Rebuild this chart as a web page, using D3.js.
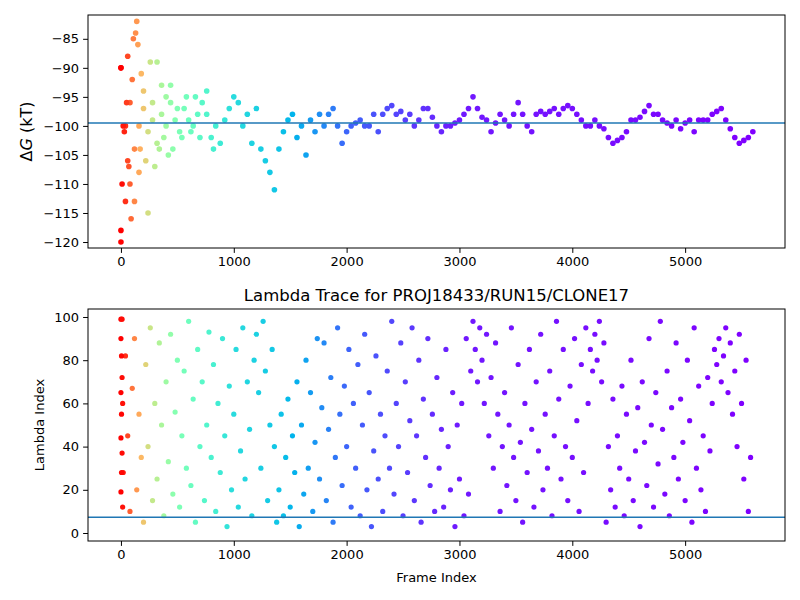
<!DOCTYPE html>
<html>
<head>
<meta charset="utf-8">
<script src="https://cdn.jsdelivr.net/npm/d3@7"></script>
<style>
  body { margin: 0; background: #fff; }
  text { font-family: "DejaVu Sans", sans-serif; }
</style>
</head>
<body>
<div id="chart"></div>
<script>
// ---- data ----
const dgStep = 40; // main trace sampled every 40 frames
const dgTrace = [
  -90, -100, -96, -104, -100, -97, -101, -99, -103, -98,
  -100, -96, -99, -101, -97, -99, -100, -98, -96, -98,
  -102, -100, -103, -99, -97, -95, -96, -100, -98, -103,
  -97, -104, -106, -108, -111, -104, -101, -99, -98, -102,
  -100, -105, -99, -101, -98, -100, -98, -97, -100, -103,
  -101, -100, -99.5, -99, -100, -100, -98, -101, -98, -97,
  -96.5, -98, -97.5, -99, -98, -100, -99, -97, -97, -98.5,
  -100, -101, -100, -100, -99.5, -99, -98, -97, -95, -97,
  -98.5, -99, -101, -99.5, -98, -99, -100, -98, -96, -98,
  -100, -101, -98, -97.5, -98, -97.5, -97, -98, -97, -96.5,
  -97, -98, -99, -100, -100, -99, -100, -100.5, -102, -103,
  -102.5, -102, -101, -99, -99, -98.5, -97.5, -96.5, -98, -98,
  -99, -99.5, -100, -99, -100.5, -99.5, -99, -101, -99, -99,
  -99, -98, -97.5, -97, -99, -100.5, -102, -103, -102.5, -102,
  -101
];
const dgEarlyFrames = [0, 0, 0, 10, 20, 30, 40, 50, 60, 60, 70, 80, 90, 100, 110, 120, 130, 140, 150, 160,
  170, 180, 200, 220, 240, 260, 280, 300, 320, 340, 360, 380, 400, 420, 440, 460, 500, 540, 580, 620, 660, 700, 760, 820];
const dgEarlyValues = [-90, -120, -118, -110, -100, -101, -113, -96, -88, -106, -107, -110, -116, -92, -85, -113, -84, -82, -86, -108,
  -104, -91, -94, -106, -115, -89, -96, -107, -89, -104, -93, -102, -95, -105, -93, -104, -97, -102, -95, -101, -95, -102, -94, -104];
const dgMean = -99.5;

const lamStep = 20;
const lamTrace = [
  99, 28, 82, 45, 10, 67, 90, 20, 55, 35,
  5, 78, 40, 95, 15, 60, 25, 88, 50, 8,
  70, 33, 92, 18, 56, 80, 12, 45, 75, 30,
  98, 22, 62, 5, 85, 40, 70, 15, 50, 93,
  35, 78, 10, 60, 28, 90, 45, 3, 68, 20,
  55, 85, 12, 38, 95, 25, 70, 48, 8, 80,
  92, 65, 30, 98, 75, 15, 50, 85, 40, 5,
  20, 55, 8, 35, 62, 12, 45, 28, 70, 3,
  50, 18, 80, 30, 65, 10, 42, 90, 25, 58,
  88, 15, 48, 72, 5, 35, 95, 55, 22, 68,
  40, 85, 12, 60, 30, 78, 8, 50, 92, 20,
  65, 3, 38, 82, 25, 55, 10, 45, 75, 30,
  98, 18, 60, 40, 88, 8, 70, 28, 52, 95,
  15, 45, 80, 5, 62, 35, 90, 22, 55, 10,
  72, 30, 48, 12, 85, 40, 20, 65, 3, 50,
  25, 60, 8, 90, 18, 75, 98, 85, 70, 95,
  80, 60, 92, 45, 72, 30, 88, 55, 10, 40,
  65, 22, 50, 95, 35, 15, 78, 42, 5, 60,
  28, 85, 48, 12, 70, 38, 92, 20, 55, 30,
  75, 8, 45, 98, 62, 25, 85, 40, 15, 68,
  35, 90, 52, 10, 78, 28, 95, 60, 85, 75,
  92, 80, 98, 70, 88, 5, 40, 20, 62, 12,
  45, 30, 68, 8, 55, 25, 80, 15, 38, 58,
  3, 70, 42, 22, 90, 50, 12, 65, 32, 98,
  48, 18, 75, 8, 58, 35, 88, 25, 62, 42,
  15, 80, 52, 5, 95, 30, 68, 20, 45, 10,
  72, 38, 60, 85, 78, 90, 70, 82, 95, 65,
  88, 55, 75, 40, 92, 60, 25, 80, 10, 35
];
const lamEarlyFrames = [0, 0, 0, 0, 5, 5, 5, 10, 10, 10, 15, 15];
const lamEarlyValues = [90, 65, 44, 19, 82, 55, 28, 99, 72, 37, 60, 12];
const lamMean = 7.3;

const xTicks = [0, 1000, 2000, 3000, 4000, 5000];
const dgTicks = [-85, -90, -95, -100, -105, -110, -115, -120];
const lamTicks = [0, 20, 40, 60, 80, 100];

// matplotlib "rainbow" colormap
function rainbow(t) {
  const r = Math.min(1, Math.abs(2 * t - 0.5));
  const g = Math.sin(Math.PI * t);
  const b = Math.cos(Math.PI * t / 2);
  return d3.rgb(r * 255, g * 255, b * 255).formatHex();
}
const colorPos = d3.scaleLinear()
  .domain([0, 100, 250, 500, 1000, 1400, 2000, 3000, 5600])
  .range([1, 0.85, 0.65, 0.5, 0.33, 0.28, 0.13, 0.03, 0])
  .clamp(true);
const color = f => rainbow(colorPos(f));

const width = 800, height = 600;
const left = 88, right = 785;

const svg = d3.select("#chart").append("svg")
  .attr("width", width).attr("height", height);

const x = d3.scaleLinear().domain([-292, 5885]).range([left, right]);

function panel(top, bottom, yDomain, yTicks, points, mean, ylabel, xlabel, title, r) {
  const y = d3.scaleLinear().domain(yDomain).range([bottom, top]);
  const g = svg.append("g");

  g.selectAll("circle")
    .data(points)
    .join("circle")
    .attr("cx", d => x(d[0]))
    .attr("cy", d => y(d[1]))
    .attr("r", r)
    .attr("fill", d => color(d[0]));

  g.append("line")
    .attr("x1", left).attr("x2", right)
    .attr("y1", y(mean)).attr("y2", y(mean))
    .attr("stroke", "#1f77b4").attr("stroke-width", 1.5);

  const xa = g.append("g").attr("transform", `translate(0,${bottom})`)
    .call(d3.axisBottom(x).tickValues(xTicks).tickSize(4.9).tickPadding(4).tickFormat(d3.format("d")));
  const ya = g.append("g").attr("transform", `translate(${left},0)`)
    .call(d3.axisLeft(y).tickValues(yTicks).tickSize(4.9).tickPadding(4).tickFormat(d => d < 0 ? "\u2212" + Math.abs(d) : d));
  [xa, ya].forEach(a => {
    a.selectAll("text").style("font-size", "13px").attr("fill", "#000");
    a.selectAll("line").attr("stroke", "#000");
    a.select(".domain").remove();
  });

  g.append("rect")
    .attr("x", left).attr("y", top)
    .attr("width", right - left).attr("height", bottom - top)
    .attr("fill", "none").attr("stroke", "#000").attr("stroke-width", 1);

  if (ylabel) {
    g.append("text")
      .attr("transform", `translate(${ylabel.x},${(top + bottom) / 2}) rotate(-90)`)
      .attr("text-anchor", "middle")
      .style("font-size", ylabel.size)
      .html(ylabel.html);
  }
  if (xlabel) {
    g.append("text").attr("x", (left + right) / 2).attr("y", bottom + 41)
      .attr("text-anchor", "middle").style("font-size", "13px").text(xlabel);
  }
  if (title) {
    g.append("text").attr("x", (left + right) / 2).attr("y", top - 8)
      .attr("text-anchor", "middle").style("font-size", "16.5px").text(title);
  }
}

const dgPoints = dgTrace.map((v, i) => [i * dgStep, v])
  .concat(dgEarlyFrames.map((f, i) => [f, dgEarlyValues[i]]));
const lamPoints = lamTrace.map((v, i) => [i * lamStep, v])
  .concat(lamEarlyFrames.map((f, i) => [f, lamEarlyValues[i]]));

panel(15, 248, [-121.03, -80.9], dgTicks, dgPoints, dgMean,
  { x: 32, size: "16px", html: '\u0394<tspan font-style="italic">G</tspan> (kT)' }, null, null, 2.8);
panel(309, 541, [-3.7, 103.7], lamTicks, lamPoints, lamMean,
  { x: 44, size: "13px", html: "Lambda Index" }, "Frame Index",
  "Lambda Trace for PROJ18433/RUN15/CLONE17", 2.6);
</script>
</body>
</html>
